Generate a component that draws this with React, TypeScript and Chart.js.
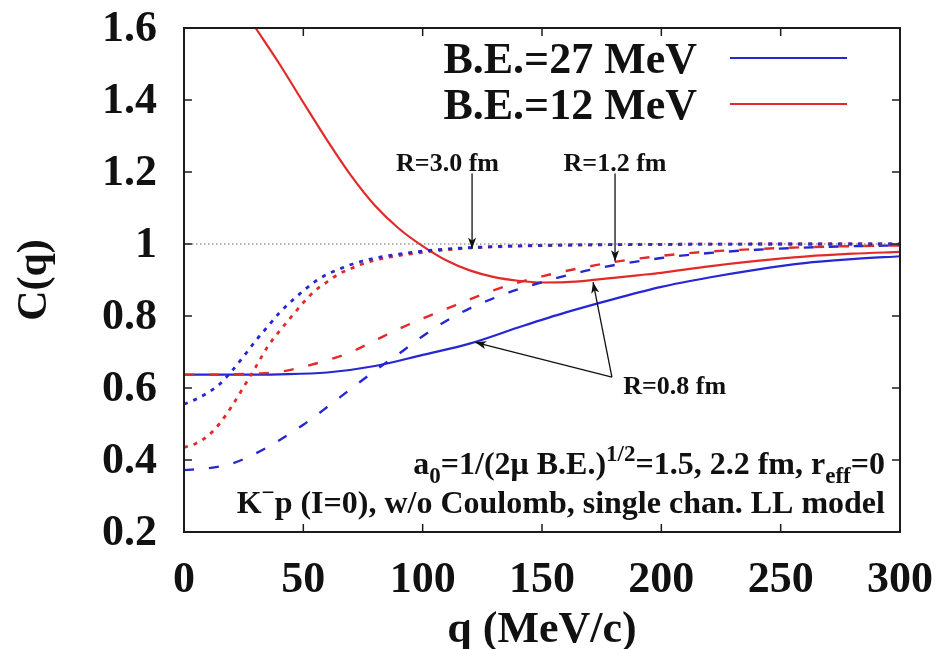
import React, { useEffect, useRef } from "react";
import { Chart, registerables } from "chart.js";

Chart.register(...registerables);

const BLUE = "#2626d2";
const RED = "#e32a2a";
const FONT = "'Liberation Serif', 'Times New Roman', serif";

// axis ticks
const xTickValues = [0, 50, 100, 150, 200, 250, 300];
const xTickLabels = ["0", "50", "100", "150", "200", "250", "300"];
const yTickValues = [0.2, 0.4, 0.6, 0.8, 1.0, 1.2, 1.4, 1.6];
const yTickLabels = ["0.2", "0.4", "0.6", "0.8", "1", "1.2", "1.4", "1.6"];

// B.E.=27 MeV, R=0.8 fm (solid blue)
const qSolid27 = [0, 20, 40, 60, 80, 100, 120, 140, 160, 180, 200, 220, 240, 260, 280, 300];
const cSolid27 = [0.637, 0.637, 0.638, 0.643, 0.661, 0.692, 0.724, 0.768, 0.81, 0.847, 0.881, 0.907, 0.929, 0.947, 0.958, 0.966];

// B.E.=12 MeV, R=0.8 fm (solid red)
const qSolid12 = [30, 40, 50, 60, 70, 80, 90, 100, 110, 120, 130, 140, 150, 160, 170, 180, 190, 200, 220, 240, 260, 280, 300];
const cSolid12 = [1.6, 1.5, 1.393, 1.288, 1.19, 1.107, 1.043, 0.994, 0.954, 0.926, 0.908, 0.898, 0.893, 0.894, 0.899, 0.906, 0.913, 0.92, 0.938, 0.953, 0.965, 0.973, 0.978];

// R=1.2 fm (dashed)
const qDash = [0, 10, 20, 30, 40, 50, 60, 70, 80, 90, 100, 110, 120, 130, 140, 150, 160, 170, 180, 200, 220, 240, 260, 280, 300];
const cDash12 = [0.637, 0.637, 0.638, 0.64, 0.645, 0.659, 0.677, 0.7, 0.732, 0.764, 0.793, 0.82, 0.847, 0.872, 0.893, 0.91, 0.925, 0.938, 0.95, 0.967, 0.979, 0.986, 0.991, 0.994, 0.996];
const cDash27 = [0.372, 0.377, 0.39, 0.418, 0.455, 0.498, 0.547, 0.598, 0.648, 0.695, 0.744, 0.787, 0.822, 0.85, 0.874, 0.894, 0.912, 0.928, 0.941, 0.961, 0.975, 0.984, 0.99, 0.994, 0.996];

// R=3.0 fm (dotted)
const qDot = [0, 5, 10, 15, 20, 25, 30, 35, 40, 45, 50, 55, 60, 65, 70, 75, 80, 90, 100, 110, 120, 140, 160, 200, 250, 300];
const cDot27 = [0.555, 0.569, 0.587, 0.611, 0.647, 0.688, 0.731, 0.77, 0.809, 0.841, 0.87, 0.896, 0.916, 0.93, 0.943, 0.953, 0.961, 0.972, 0.98, 0.986, 0.99, 0.995, 0.997, 0.999, 1.0, 1.0];
const cDot12 = [0.435, 0.446, 0.467, 0.502, 0.549, 0.603, 0.658, 0.714, 0.758, 0.798, 0.837, 0.871, 0.895, 0.917, 0.932, 0.945, 0.955, 0.968, 0.977, 0.984, 0.989, 0.994, 0.997, 0.999, 1.0, 1.0];

// reference line C=1
const qRef = [0, 300];
const cRef = [1, 1];

// legend
const legendLabels = ["B.E.=27 MeV", "B.E.=12 MeV"];
const legendColors = [BLUE, RED];

// annotation labels (data coordinates)
const labelTexts = ["R=3.0 fm", "R=1.2 fm", "R=0.8 fm"];
const labelQ = [110.4, 180.6, 205.6];
const labelC = [1.225, 1.225, 0.606];
const arrowFromQ = [120.7, 180.6, 179.3, 179.3];
const arrowFromC = [1.196, 1.196, 0.63, 0.63];
const arrowToQ = [120.7, 180.6, 122, 171.4];
const arrowToC = [0.987, 0.952, 0.727, 0.894];

// bottom notes
const noteQ = 293.7;
const noteC = [0.362, 0.252];
const noteLines: [string, number][][] = [
  [["a", 0], ["0", -1], ["=1/(2\u03bc B.E.)", 0], ["1/2", 1], ["=1.5, 2.2 fm, r", 0], ["eff", -1], ["=0", 0]],
  [["K", 0], ["\u2212", 1], ["p (I=0), w/o Coulomb, single chan. LL model", 0]],
];

const pts = (q: number[], c: number[]) => q.map((x, i) => ({ x, y: c[i] }));

function drawArrow(ctx: CanvasRenderingContext2D, x1: number, y1: number, x2: number, y2: number) {
  ctx.beginPath();
  ctx.moveTo(x1, y1);
  ctx.lineTo(x2, y2);
  ctx.stroke();
  const a = Math.atan2(y2 - y1, x2 - x1);
  const L = 11, W = 4;
  const bx = x2 - L * Math.cos(a), by = y2 - L * Math.sin(a);
  const nx = x2 - L * 0.75 * Math.cos(a), ny = y2 - L * 0.75 * Math.sin(a);
  ctx.beginPath();
  ctx.moveTo(x2, y2);
  ctx.lineTo(bx + W * Math.sin(a), by - W * Math.cos(a));
  ctx.lineTo(nx, ny);
  ctx.lineTo(bx - W * Math.sin(a), by + W * Math.cos(a));
  ctx.closePath();
  ctx.fill();
}

const overlayPlugin = {
  id: "overlay",
  afterDatasetsDraw(chart: any) {
    const { ctx, chartArea: a, scales } = chart;
    const xs = scales.x, ys = scales.y;
    ctx.save();
    // frame
    ctx.strokeStyle = "#1c1c1c";
    ctx.lineWidth = 2;
    ctx.strokeRect(a.left, a.top, a.right - a.left, a.bottom - a.top);
    ctx.lineWidth = 1.5;
    ctx.beginPath();
    for (const v of xTickValues) {
      const px = xs.getPixelForValue(v);
      ctx.moveTo(px, a.bottom); ctx.lineTo(px, a.bottom - 8);
      ctx.moveTo(px, a.top); ctx.lineTo(px, a.top + 8);
    }
    for (const v of yTickValues) {
      const py = ys.getPixelForValue(v);
      ctx.moveTo(a.left, py); ctx.lineTo(a.left + 8, py);
      ctx.moveTo(a.right, py); ctx.lineTo(a.right - 8, py);
    }
    ctx.stroke();

    // legend
    ctx.textAlign = "right";
    ctx.textBaseline = "middle";
    ctx.fillStyle = "#111";
    legendLabels.forEach((t, i) => {
      const y = a.top + 30 + i * 46;
      ctx.font = `bold 44px ${FONT}`;
      ctx.fillText(t, a.right - 203, y + 4);
      ctx.strokeStyle = legendColors[i];
      ctx.lineWidth = 2.2;
      ctx.beginPath();
      ctx.moveTo(a.right - 170, y);
      ctx.lineTo(a.right - 53, y);
      ctx.stroke();
    });

    // annotation labels + arrows
    ctx.font = `bold 26px ${FONT}`;
    ctx.textAlign = "center";
    ctx.fillStyle = "#111";
    labelTexts.forEach((t, i) => {
      ctx.fillText(t, xs.getPixelForValue(labelQ[i]), ys.getPixelForValue(labelC[i]) + 1);
    });
    ctx.strokeStyle = "#111";
    ctx.fillStyle = "#111";
    ctx.lineWidth = 1.3;
    arrowFromQ.forEach((_, i) => {
      drawArrow(
        ctx,
        xs.getPixelForValue(arrowFromQ[i]), ys.getPixelForValue(arrowFromC[i]),
        xs.getPixelForValue(arrowToQ[i]), ys.getPixelForValue(arrowToC[i])
      );
    });

    // notes
    ctx.textAlign = "left";
    ctx.textBaseline = "alphabetic";
    const big = `bold 32px ${FONT}`;
    const small = `bold 23px ${FONT}`;
    noteLines.forEach((segs, li) => {
      let w = 0;
      for (const [s, k] of segs) {
        ctx.font = k === 0 ? big : small;
        w += ctx.measureText(s).width;
      }
      let x = xs.getPixelForValue(noteQ) - w;
      const base = ys.getPixelForValue(noteC[li]);
      for (const [s, k] of segs) {
        ctx.font = k === 0 ? big : small;
        const dy = k === -1 ? 9 : k === 1 ? -13 : 0;
        ctx.fillText(s, x, base + dy);
        x += ctx.measureText(s).width;
      }
    });
    ctx.restore();
  },
};

const hiddenGrid = (len: number) => ({
  display: true, drawOnChartArea: false, drawTicks: true, tickLength: len,
  tickColor: "rgba(0,0,0,0)", color: "rgba(0,0,0,0)",
});

export default function App() {
  const ref = useRef<HTMLCanvasElement>(null);
  useEffect(() => {
    if (!ref.current) return;
    const solid = (label: string, q: number[], c: number[], color: string) => ({
      label, data: pts(q, c), borderColor: color, borderWidth: 2.2, pointRadius: 0,
      cubicInterpolationMode: "monotone" as const, fill: false,
    });
    const styled = (label: string, q: number[], c: number[], color: string, dash: number[], w: number) => ({
      ...solid(label, q, c, color), borderDash: dash, borderWidth: w,
    });
    const chart = new Chart(ref.current, {
      type: "line",
      data: {
        datasets: [
          { label: "C=1", data: pts(qRef, cRef), borderColor: "#666", borderWidth: 1, borderDash: [1.5, 2.5], pointRadius: 0, fill: false },
          styled("R=3.0 fm, B.E.=27", qDot, cDot27, BLUE, [4, 6], 2.8),
          styled("R=3.0 fm, B.E.=12", qDot, cDot12, RED, [4, 6], 2.8),
          styled("R=1.2 fm, B.E.=27", qDash, cDash27, BLUE, [10, 15], 2.4),
          styled("R=1.2 fm, B.E.=12", qDash, cDash12, RED, [10, 15], 2.4),
          solid("B.E.=27 MeV", qSolid27, cSolid27, BLUE),
          solid("B.E.=12 MeV", qSolid12, cSolid12, RED),
        ],
      },
      options: {
        responsive: false,
        animation: false,
        layout: { padding: { top: 28, right: 43, left: 0, bottom: 0 } },
        plugins: { legend: { display: false }, tooltip: { enabled: false } },
        scales: {
          x: {
            type: "linear", min: 0, max: 300,
            grid: hiddenGrid(27),
            border: { display: false },
            afterBuildTicks: (s: any) => { s.ticks = xTickValues.map((v) => ({ value: v })); },
            afterFit: (s: any) => { s.height = 117; },
            ticks: {
              padding: 0, color: "#111", maxRotation: 0, autoSkip: false,
              font: { family: FONT, size: 44, weight: "bold", lineHeight: 1 },
              callback: (v: any) => { const i = xTickValues.indexOf(Number(v)); return i >= 0 ? xTickLabels[i] : ""; },
            },
            title: {
              display: true, text: "q (MeV/c)", color: "#111",
              font: { family: FONT, size: 44, weight: "bold", lineHeight: 0.82 },
              padding: { top: 0, bottom: 0 },
            },
          },
          y: {
            type: "linear", min: 0.2, max: 1.6,
            grid: hiddenGrid(27),
            border: { display: false },
            afterBuildTicks: (s: any) => { s.ticks = yTickValues.map((v) => ({ value: v })); },
            afterFit: (s: any) => { s.width = 184; },
            ticks: {
              padding: 0, color: "#111", autoSkip: false, labelOffset: 2,
              font: { family: FONT, size: 44, weight: "bold", lineHeight: 1 },
              callback: (v: any) => { const i = yTickValues.findIndex((t) => Math.abs(t - Number(v)) < 1e-6); return i >= 0 ? yTickLabels[i] : ""; },
            },
            title: {
              display: true, text: "C(q)", color: "#111",
              font: { family: FONT, size: 42, weight: "bold", lineHeight: 1 },
              padding: { top: 14, bottom: 0 },
            },
          },
        },
      },
      plugins: [overlayPlugin],
    } as any);
    return () => chart.destroy();
  }, []);
  return (
    <div style={{ position: "fixed", left: 0, top: 0, width: 943, height: 649, background: "#fff" }}>
      <canvas ref={ref} width={943} height={649} style={{ display: "block" }} />
    </div>
  );
}
